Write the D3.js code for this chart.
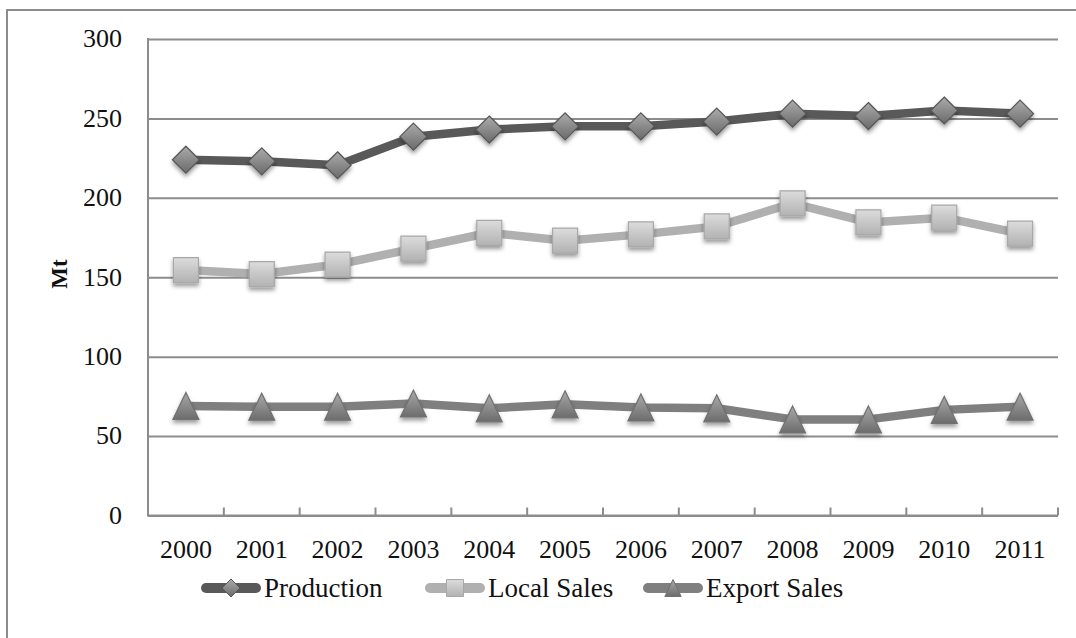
<!DOCTYPE html>
<html>
<head>
<meta charset="utf-8">
<script src="https://cdn.jsdelivr.net/npm/d3@7"></script>
<style>
  html, body { margin: 0; padding: 0; background: #ffffff; }
  svg { display: block; }
  text { font-family: "Liberation Serif", "Times New Roman", serif; fill: #111; }
</style>
</head>
<body>
<svg id="chart" width="1076" height="638"></svg>
<script>
// Coal production and sales, million tonnes
const years = ["2000", "2001", "2002", "2003", "2004", "2005", "2006", "2007", "2008", "2009", "2010", "2011"];
const production  = [224, 223, 220.5, 238.5, 243, 245, 245, 248, 253, 251.5, 255, 253];
const localSales  = [154.5, 152, 158, 168, 178, 173, 177, 182, 196.5, 184.5, 187.5, 177.5];
const exportSales = [69, 68.5, 68.5, 70.5, 67.5, 70, 68, 67.5, 60.5, 60.5, 66.5, 68.5];
const seriesNames = ["Production", "Local Sales", "Export Sales"];
const yTicks = [0, 50, 100, 150, 200, 250, 300];
const yTitle = "Mt";

const svg = d3.select("#chart");
const plot = { left: 148, right: 1058, top: 39, bottom: 515.5 };

// outer chart frame (runs off the right and bottom edges)
svg.append("rect")
  .attr("x", 7).attr("y", 10).attr("width", 1100).attr("height", 700)
  .attr("fill", "none").attr("stroke", "#8c8c8c").attr("stroke-width", 2);

const defs = svg.append("defs");
const shadow = defs.append("filter").attr("id", "shadow")
  .attr("x", "-50%").attr("y", "-50%").attr("width", "200%").attr("height", "220%");
shadow.append("feDropShadow").attr("dx", 0).attr("dy", 3).attr("stdDeviation", 2.2)
  .attr("flood-color", "#000").attr("flood-opacity", 0.4);

function gradient(id, top, bottom) {
  const g = defs.append("linearGradient").attr("id", id)
    .attr("x1", 0).attr("y1", 0).attr("x2", 0).attr("y2", 1);
  g.append("stop").attr("offset", "0%").attr("stop-color", top);
  g.append("stop").attr("offset", "100%").attr("stop-color", bottom);
}
gradient("gProd", "#ababab", "#6a6a6a");
gradient("gLocal", "#dcdcdc", "#b2b2b2");
gradient("gExport", "#a9a9a9", "#6c6c6c");

const x = d3.scaleBand().domain(years).range([plot.left, plot.right]);
const xc = d => x(d) + x.bandwidth() / 2;
const y = d3.scaleLinear().domain([0, 300]).range([plot.bottom, plot.top]);

// y axis with gridlines
const yAxis = svg.append("g")
  .attr("transform", `translate(${plot.left},0)`)
  .call(d3.axisLeft(y).tickValues(yTicks).tickSize(-(plot.right - plot.left)).tickPadding(26));
yAxis.select(".domain").remove();
yAxis.selectAll(".tick line").attr("stroke", "#8c8c8c").attr("stroke-width", 2);
yAxis.selectAll(".tick text").attr("font-size", 26).attr("fill", "#111")
  .attr("font-family", "Liberation Serif, serif").attr("dy", "0.3em");
svg.append("line")
  .attr("x1", plot.left).attr("x2", plot.left)
  .attr("y1", plot.top - 1).attr("y2", plot.bottom + 1)
  .attr("stroke", "#8c8c8c").attr("stroke-width", 2);

// x axis: category labels and inside tick marks at category boundaries
const xAxis = svg.append("g")
  .attr("transform", `translate(0,${plot.bottom})`)
  .call(d3.axisBottom(x).tickSize(0).tickPadding(24));
xAxis.select(".domain").remove();
xAxis.selectAll(".tick text").attr("font-size", 26).attr("fill", "#111")
  .attr("font-family", "Liberation Serif, serif");
svg.append("line")
  .attr("x1", plot.left).attr("x2", plot.right)
  .attr("y1", plot.bottom).attr("y2", plot.bottom)
  .attr("stroke", "#8c8c8c").attr("stroke-width", 2);
svg.append("g").selectAll("line")
  .data(years)
  .join("line")
  .attr("x1", d => x(d) + x.bandwidth()).attr("x2", d => x(d) + x.bandwidth())
  .attr("y1", plot.bottom - 8).attr("y2", plot.bottom)
  .attr("stroke", "#8c8c8c").attr("stroke-width", 2);

// y axis title
svg.append("text")
  .attr("transform", `translate(67,274) rotate(-90)`)
  .attr("text-anchor", "middle")
  .attr("font-size", 23).attr("font-weight", "bold")
  .text(yTitle);

// marker shapes
const shapes = {
  diamond: r => `M0,${-r}L${r},0L0,${r}L${-r},0Z`,
  square: r => `M${-r},${-r}H${r}V${r}H${-r}Z`,
  triangle: r => `M0,${-r}L${r * 0.96},${r}L${-r * 0.96},${r}Z`
};

const series = [
  { name: seriesNames[0], values: production, line: "#595959", fill: "url(#gProd)", edge: "#555555", shape: "diamond", r: 13.5 },
  { name: seriesNames[1], values: localSales, line: "#b0b0b0", fill: "url(#gLocal)", edge: "#a8a8a8", shape: "square", r: 12.5 },
  { name: seriesNames[2], values: exportSales, line: "#7f7f7f", fill: "url(#gExport)", edge: "#707070", shape: "triangle", r: 13.5 }
];

const line = d3.line().x((d, i) => xc(years[i])).y(d => y(d));

series.forEach(s => {
  const g = svg.append("g");
  g.append("path")
    .attr("d", line(s.values))
    .attr("fill", "none").attr("stroke", s.line).attr("stroke-width", 8.5)
    .attr("stroke-linejoin", "round").attr("stroke-linecap", "round");
  g.selectAll("path.marker")
    .data(s.values)
    .join("path")
    .attr("class", "marker")
    .attr("transform", (d, i) => `translate(${xc(years[i])},${y(d)})`)
    .attr("d", shapes[s.shape](s.r))
    .attr("fill", s.fill).attr("stroke", s.edge).attr("stroke-width", 1.2)
    .attr("filter", "url(#shadow)");
});

// legend
const legendX = [202, 426, 644];
const legendY = 588;
const legend = svg.append("g");
series.forEach((s, i) => {
  const g = legend.append("g").attr("transform", `translate(${legendX[i]},${legendY})`);
  g.append("line").attr("x1", 4).attr("x2", 54).attr("y1", 0).attr("y2", 0)
    .attr("stroke", s.line).attr("stroke-width", 10).attr("stroke-linecap", "round");
  g.append("path").attr("transform", "translate(29,0)")
    .attr("d", shapes[s.shape](s.shape === "diamond" ? 9 : 8.5))
    .attr("fill", s.fill).attr("stroke", s.edge).attr("stroke-width", 1);
  g.append("text").attr("x", 62).attr("y", 9)
    .attr("font-size", 27).text(s.name);
});
</script>
</body>
</html>
